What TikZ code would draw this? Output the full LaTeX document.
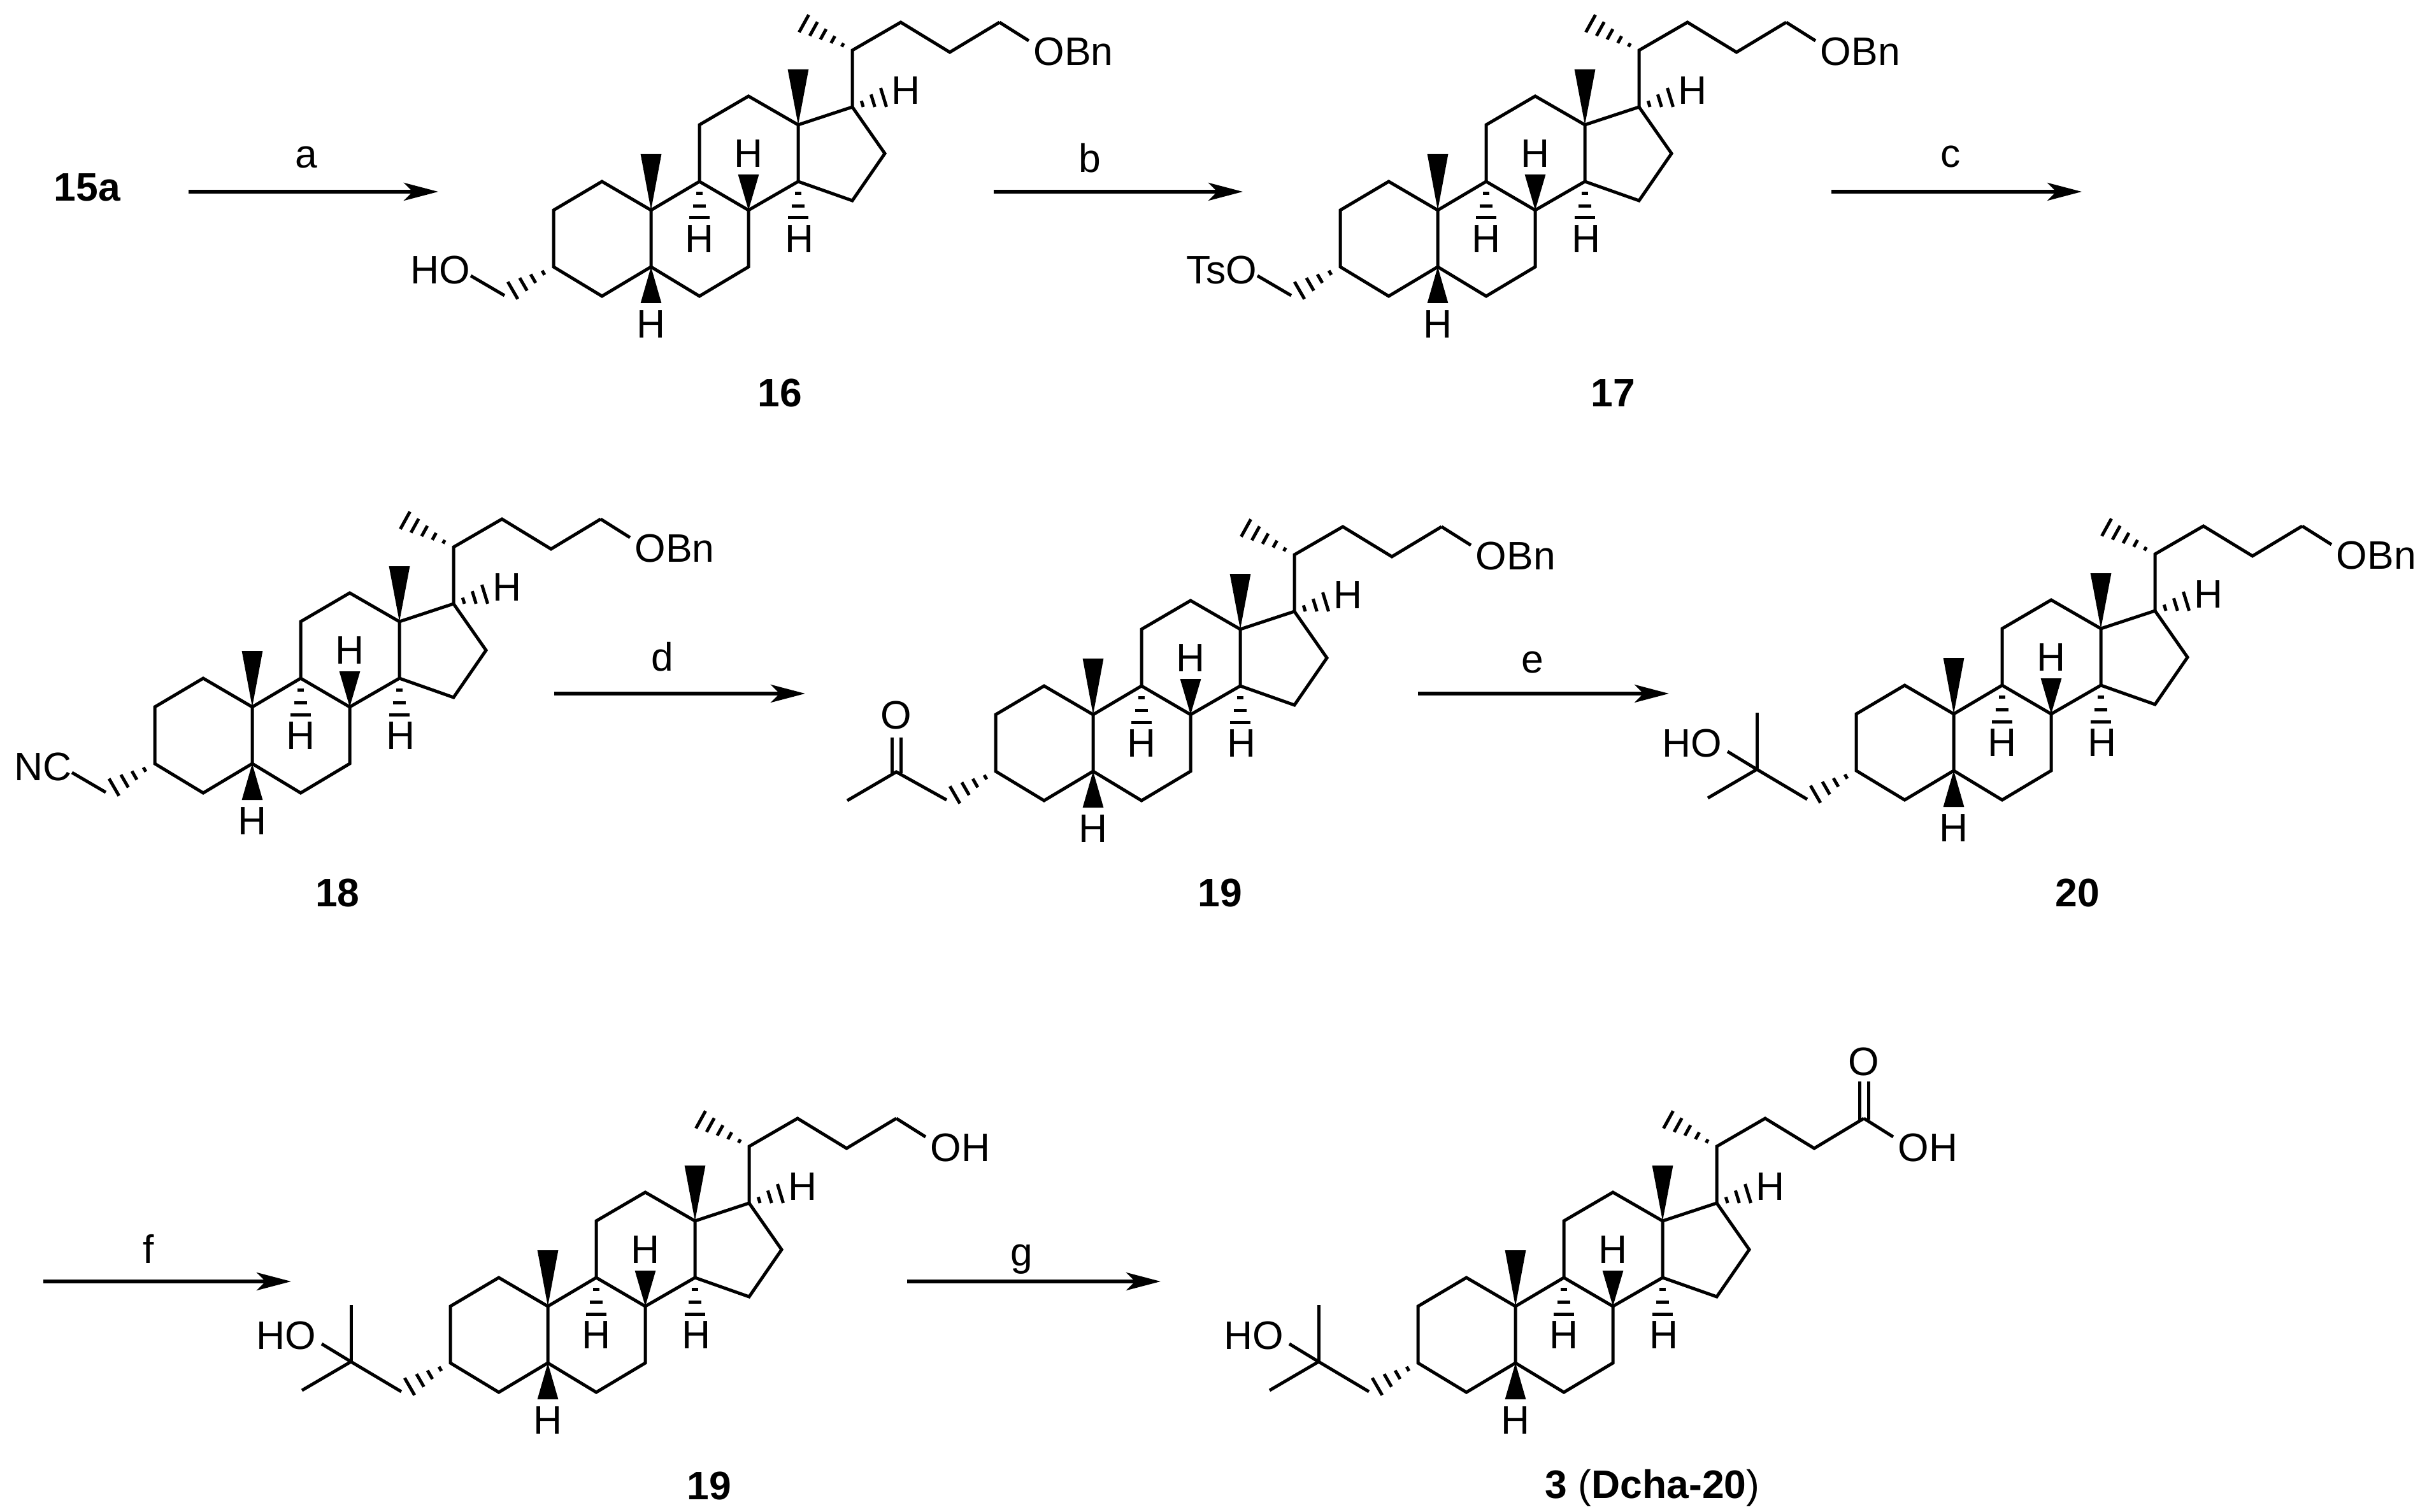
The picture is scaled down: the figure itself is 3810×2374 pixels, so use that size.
\documentclass[tikz,border=0pt]{standalone}
\usepackage{fontspec}
\setmainfont{Liberation Sans}
\usetikzlibrary{calc,arrows.meta}
\tikzset{
  bond/.style={line width=1.25pt,line join=miter,line cap=butt},
  rxn/.style={line width=1.5pt,-{Stealth[length=13.5pt,width=7pt,inset=3.5pt]}},
  lab/.style={inner sep=0pt,font=\fontsize{15.6}{18}\selectfont},
  cmpd/.style={inner sep=0pt,font=\fontsize{15.6}{18}\selectfont\bfseries}
}
% hashed bond from #1 to #2; #3 = list of positions
\newcommand\hb[3]{\foreach \t in {#3}{
  \pgfmathsetmacro\w{\t*3.9}
  \coordinate (hbp) at ($(#1)!\t!(#2)$);
  \draw[line width=1.25pt] ($(hbp)!\w pt!90:(#1)$) -- ($(hbp)!\w pt!-90:(#1)$);}}
\newcommand\wdg[2]{\fill (#1) -- ($(#2)!4.1pt!90:(#1)$) -- ($(#2)!4.1pt!-90:(#1)$) -- cycle;}
\newcommand\core[1]{
  \coordinate (#1a) at (-153,89);
  \coordinate (#1b) at (-153,0);
  \coordinate (#1c) at (-77,-45);
  \coordinate (#1d) at (0,0);
  \coordinate (#1e) at (0,89);
  \coordinate (#1f) at (-77,135);
  \coordinate (#1g) at (76,-45);
  \coordinate (#1h) at (153,0);
  \coordinate (#1i) at (153,89);
  \coordinate (#1j) at (76,135);
  \coordinate (#1k) at (76,-134);
  \coordinate (#1l) at (153,-179);
  \coordinate (#1m) at (231,-134);
  \coordinate (#1n) at (231,-45);
  \coordinate (#1o) at (316,-162);
  \coordinate (#1p) at (367,-89);
  \coordinate (#1q) at (316,-15);
  \coordinate (#1r) at (316,-251);
  \coordinate (#1s) at (392,-295);
  \coordinate (#1t) at (469,-248);
  \coordinate (#1u) at (547,-295);
  \coordinate (#1me) at (240,-293);
  \coordinate (#1w10) at (0,-88);
  \coordinate (#1w13) at (231,-221);
  \coordinate (#1w8) at (153,-56);
  \coordinate (#1w5) at (0,146);
  \coordinate (#1h9) at (76,12);
  \coordinate (#1h14) at (231,12);
  \coordinate (#1h17) at (365,-177);
  \coordinate (#1t1) at (-230,134);
  \coordinate (#1hc3) at (-217,126);
  \draw[bond] (#1a) -- (#1b) -- (#1c) -- (#1d) -- (#1e) -- (#1f) -- cycle;
  \draw[bond] (#1d) -- (#1g) -- (#1h) -- (#1i) -- (#1j) -- (#1e);
  \draw[bond] (#1g) -- (#1k) -- (#1l) -- (#1m) -- (#1n) -- (#1h);
  \draw[bond] (#1m) -- (#1o) -- (#1p) -- (#1q) -- (#1n);
  \draw[bond] (#1o) -- (#1r) -- (#1s) -- (#1t) -- (#1u);
  \wdg{#1d}{#1w10}\wdg{#1m}{#1w13}\wdg{#1h}{#1w8}\wdg{#1e}{#1w5}
  \hb{#1g}{#1h9}{0.33,0.67,1}
  \hb{#1n}{#1h14}{0.33,0.67,1}
  \hb{#1o}{#1h17}{0.32,0.66,1}
  \hb{#1r}{#1me}{0.2,0.4,0.6,0.8,1}
  \hb{#1a}{#1hc3}{0.25,0.5,0.74,1}
  \node[lab] (#1H8) at (153,-89) {H};
  \node[lab] (#1H9) at (76,45) {H};
  \node[lab] (#1H14) at (233,45) {H};
  \node[lab] (#1H5) at (0,179) {H};
  \node[lab] (#1H17) at (400,-188) {H};
}
\newcommand\chainO[2]{
  \coordinate (#1v) at (593,-266);
  \draw[bond] (#1u) -- (#1v);
  \node[lab,anchor=west] (#1OR) at (600,-249) {#2};
}
\newcommand\acid[1]{
  \coordinate (#1v) at (593,-266);
  \draw[bond] (#1u) -- (#1v);
  \draw[bond] ($(#1u)+(-7,2)$) -- ++(0,-60);
  \draw[bond] ($(#1u)+(7,2)$) -- ++(0,-60);
  \node[lab] (#1O) at (547,-384) {O};
  \node[lab,anchor=west] (#1OH) at (600,-249) {OH};
}
\newcommand\tailO[2]{
  \coordinate (#1t2) at (-283,103);
  \draw[bond] (#1t1) -- (#1t2);
  \node[lab,anchor=east] (#1RO) at (-283,94) {#2};
}
\newcommand\tailNC[1]{
  \coordinate (#1t2) at (-283,103);
  \draw[bond] (#1t1) -- (#1t2);
  \node[lab,anchor=east] (#1NC) at (-283,94) {NC};
}
\newcommand\tailKet[1]{
  \coordinate (#1cq) at (-309,90);
  \coordinate (#1cm) at (-386,135);
  \draw[bond] (#1t1) -- (#1cq) -- (#1cm);
  \draw[bond] ($(#1cq)+(-7,2)$) -- (-316,36);
  \draw[bond] ($(#1cq)+(7,2)$) -- (-302,36);
  \node[lab] (#1O) at (-309,1) {O};
}
\newcommand\tailTert[1]{
  \coordinate (#1cq) at (-309,87);
  \coordinate (#1cm) at (-386,132);
  \coordinate (#1cu) at (-309,-2);
  \coordinate (#1co) at (-355,59);
  \draw[bond] (#1t1) -- (#1cq) -- (#1cm);
  \draw[bond] (#1cq) -- (#1cu);
  \draw[bond] (#1cq) -- (#1co);
  \node[lab,anchor=east] (#1HO) at (-363,46) {HO};
}
\begin{document}
\begin{tikzpicture}[x=0.25pt,y=-0.25pt]
\useasboundingbox (0,0) rectangle (3810,2374);
\fill[white] (0,0) rectangle (3810,2374);
% compound 16
\begin{scope}[shift={(1022,330)}]\core{A}\chainO{A}{OBn}\tailO{A}{HO}\end{scope}
% compound 17
\begin{scope}[shift={(2257,330)}]\core{B}\chainO{B}{OBn}\tailO{B}{TsO}\end{scope}
% compound 18
\begin{scope}[shift={(396,1110)}]\core{C}\chainO{C}{OBn}\tailNC{C}\end{scope}
% compound 19
\begin{scope}[shift={(1716,1122)}]\core{D}\chainO{D}{OBn}\tailKet{D}\end{scope}
% compound 20
\begin{scope}[shift={(3067,1121)}]\core{E}\chainO{E}{OBn}\tailTert{E}\end{scope}
% compound 19 (second)
\begin{scope}[shift={(860,2051)}]\core{F}\chainO{F}{OH}\tailTert{F}\end{scope}
% compound 3
\begin{scope}[shift={(2379,2051)}]\core{G}\acid{G}\tailTert{G}\end{scope}
% reagents and arrows
\node[cmpd] (s15) at (137,294) {15a};
\foreach \n/\xa/\xb/\yy in {a/296/688/301,b/1560/1951/301,c/2875/3268/301,d/870/1264/1089,e/2226/2620/1089,f/68/457/2012,g/1424/1822/2012}{
  \coordinate (\n1) at (\xa,\yy);
  \coordinate (\n2) at (\xb,\yy);
  \draw[rxn] (\n1) -- (\n2);
}
\node[lab] (la) at (481,247) {a};
\node[lab] (lb) at (1711,248) {b};
\node[lab] (lc) at (3062,246) {c};
\node[lab] (ld) at (1040,1031) {d};
\node[lab] (le) at (2406,1040) {e};
\node[lab] (lf) at (233,1961) {f};
\node[lab] (lg) at (1604,1977) {g};
\node[cmpd] (n16) at (1224,617) {16};
\node[cmpd] (n17) at (2532,617) {17};
\node[cmpd] (n18) at (530,1402) {18};
\node[cmpd] (n19) at (1915,1402) {19};
\node[cmpd] (n20) at (3261,1402) {20};
\node[cmpd] (n19b) at (1113,2333) {19};
\node[cmpd,anchor=base] (n3) at (2594,2352) {3 {\mdseries(}Dcha-20{\mdseries)}};
\end{tikzpicture}
\end{document}
